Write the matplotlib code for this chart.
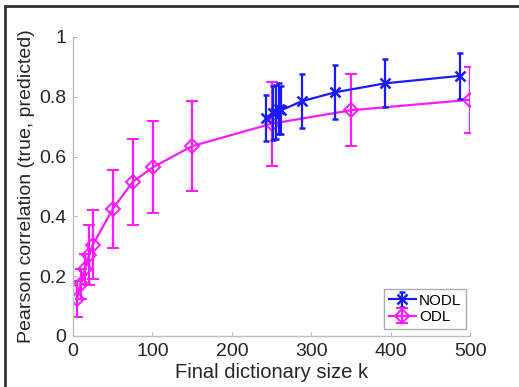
import matplotlib.pyplot as plt
from matplotlib.patches import Rectangle

# ODL (magenta)
odl_k = [5, 10, 15, 20, 25, 50, 75, 101, 150, 250, 350, 500]
odl_r = [0.125, 0.175, 0.225, 0.27, 0.305, 0.425, 0.515, 0.565, 0.635, 0.71, 0.755, 0.79]
odl_err = [0.06, 0.05, 0.05, 0.1, 0.115, 0.13, 0.145, 0.155, 0.15, 0.14, 0.12, 0.11]

# NODL (blue)
nodl_k = [243, 252, 256, 259, 262, 288, 330, 393, 487]
nodl_r = [0.73, 0.745, 0.75, 0.76, 0.755, 0.785, 0.815, 0.845, 0.87]
nodl_err = [0.077, 0.09, 0.09, 0.085, 0.08, 0.09, 0.09, 0.08, 0.077]

plt.rcParams['font.family'] = ['Liberation Sans', 'DejaVu Sans']

fig = plt.figure(figsize=(5.19, 3.87), dpi=100)
ax = fig.add_axes([0.1407, 0.1318, 0.765, 0.7726])

ax.errorbar(nodl_k, nodl_r, yerr=nodl_err, color='#1a1aff', marker='x',
            markersize=7, markeredgewidth=1.8, linewidth=1.6, capsize=2,
            elinewidth=1.6, capthick=2.5, label='NODL', zorder=3)
ax.errorbar(odl_k, odl_r, yerr=odl_err, color='#ff19ff', marker='D',
            markerfacecolor='none', markersize=7.5, markeredgewidth=1.4,
            linewidth=1.6, capsize=4, elinewidth=1.6, capthick=1.6,
            label='ODL', zorder=2)

ax.set_xlim(0, 500)
ax.set_ylim(0, 1)
ax.set_xticks([0, 100, 200, 300, 400, 500])
ax.set_yticks([0, 0.2, 0.4, 0.6, 0.8, 1])
ax.set_yticklabels(['0', '0.2', '0.4', '0.6', '0.8', '1'])
ax.spines['top'].set_visible(False)
ax.spines['right'].set_visible(False)
for s in ['left', 'bottom']:
    ax.spines[s].set_color('#bdbdbd')
    ax.spines[s].set_linewidth(1.0)
ax.tick_params(direction='in', length=3, color='#bdbdbd', labelsize=14,
               labelcolor='#262626', pad=5)

ax.set_xlabel('Final dictionary size k', fontsize=14.5, color='#262626', labelpad=2)
ax.set_ylabel('Pearson correlation (true, predicted)', fontsize=14,
              color='#262626', labelpad=3)

leg = ax.legend(loc='lower right', bbox_to_anchor=(0.99, 0.025), fontsize=11,
                frameon=True, fancybox=False, handlelength=1.8,
                handletextpad=0.2, borderpad=0.3, labelspacing=0.15,
                borderaxespad=0.0)
leg.get_frame().set_edgecolor('#999999')
leg.get_frame().set_linewidth(1.0)

# outer frame around the picture
fig.patches.append(Rectangle((5 / 519, -0.05), 1.2, 1 - 6 / 387 + 0.05,
                             transform=fig.transFigure, fill=False,
                             edgecolor='#333333', linewidth=2, clip_on=False))

fig.savefig('out.png', dpi=100)
